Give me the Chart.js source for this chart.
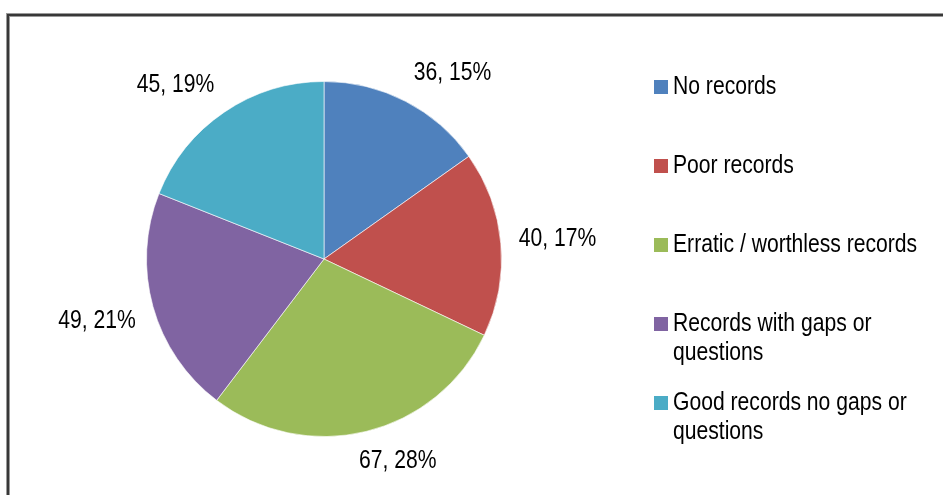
<!DOCTYPE html>
<html><head><meta charset="utf-8">
<script src="https://cdn.jsdelivr.net/npm/chart.js@4"></script>
<style>
html,body{margin:0;padding:0;background:#fff;overflow:hidden}
#wrap{position:relative;width:943px;height:495px}
canvas{display:block}
</style>
</head><body>
<div id="wrap"><canvas id="c" width="943" height="495" style="width:943px;height:495px"></canvas></div>
<script>
const categories = ["No records", "Poor records", "Erratic / worthless records", "Records with gaps or questions", "Good records no gaps or questions"];
const recordCounts = [36, 40, 67, 49, 45];
const sliceColors = ["#4F81BD", "#C0504D", "#9BBB59", "#8064A2", "#4BACC6"];

const FONT_FAMILY = '"Liberation Sans", Arial, sans-serif';
const FONT_SIZE = 25;
const CONDENSE = 0.845; // narrow-face look

function condensedWidth(ctx, txt) { return ctx.measureText(txt).width * CONDENSE; }
function drawCondensed(ctx, txt, x, y, align) {
  const w = condensedWidth(ctx, txt);
  let left = x;
  if (align === 'center') left = x - w / 2;
  ctx.save();
  ctx.translate(left, y);
  ctx.scale(CONDENSE, 1);
  ctx.textAlign = 'left';
  ctx.fillText(txt, 0, 0);
  ctx.restore();
}

const framePlugin = {
  id: 'frame',
  beforeDraw(chart) {
    const ctx = chart.ctx, W = chart.width, H = chart.height;
    ctx.save();
    ctx.fillStyle = '#ffffff';
    ctx.fillRect(0, 0, W, H);
    ctx.fillStyle = '#9a9a9a';
    ctx.fillRect(6, 13, W - 6, 1);
    ctx.fillRect(6, 13, 1, H - 13);
    ctx.fillRect(9, 16, W - 9, 1);
    ctx.fillRect(9, 16, 1, H - 16);
    ctx.fillStyle = '#383838';
    ctx.fillRect(7, 14, W - 7, 2);
    ctx.fillRect(7, 14, 2, H - 14);
    ctx.restore();
  }
};

const labelPlugin = {
  id: 'sliceLabels',
  afterDatasetsDraw(chart) {
    const ctx = chart.ctx;
    const meta = chart.getDatasetMeta(0);
    const data = chart.data.datasets[0].data;
    const total = data.reduce((a, b) => a + b, 0);
    ctx.save();
    ctx.font = FONT_SIZE + 'px ' + FONT_FAMILY;
    ctx.fillStyle = '#000';
    ctx.textBaseline = 'middle';
    meta.data.forEach((arc, i) => {
      const p = arc.getProps(['x', 'y', 'startAngle', 'endAngle', 'outerRadius'], true);
      const mid = (p.startAngle + p.endAngle) / 2;
      const txt = data[i] + ', ' + Math.round(data[i] / total * 100) + '%';
      const w = condensedWidth(ctx, txt);
      const h = FONT_SIZE;
      const c = Math.cos(mid), s = Math.sin(mid);
      const r = p.outerRadius + 18;
      const px = p.x + r * c, py = p.y + r * s;
      const clamp = v => Math.max(-1, Math.min(1, v));
      const cx = px + (w / 2) * clamp(3 * c);
      const cy = py + (h / 2) * clamp(3 * s);
      drawCondensed(ctx, txt, cx, cy, 'center');
    });
    ctx.restore();
  }
};

const legendPlugin = {
  id: 'sideLegend',
  afterDraw(chart) {
    const ctx = chart.ctx;
    const labels = chart.data.labels;
    const colors = chart.data.datasets[0].backgroundColor;
    const boxX = 654, boxSize = 14, textX = 673;
    const firstY = 87, step = 79, lineH = 29;
    const maxW = chart.width - textX - 12;
    ctx.save();
    ctx.font = FONT_SIZE + 'px ' + FONT_FAMILY;
    ctx.textBaseline = 'middle';
    labels.forEach((lab, i) => {
      const y = firstY + i * step;
      ctx.fillStyle = colors[i];
      ctx.fillRect(boxX, y - boxSize / 2, boxSize, boxSize);
      const words = lab.split(' ');
      const lines = [];
      let cur = '';
      words.forEach(wd => {
        const test = cur ? cur + ' ' + wd : wd;
        if (condensedWidth(ctx, test) > maxW && cur) { lines.push(cur); cur = wd; }
        else cur = test;
      });
      if (cur) lines.push(cur);
      ctx.fillStyle = '#000';
      lines.forEach((ln, j) => drawCondensed(ctx, ln, textX, y + j * lineH, 'left'));
    });
    ctx.restore();
  }
};

new Chart(document.getElementById('c'), {
  type: 'pie',
  data: {
    labels: categories,
    datasets: [{
      data: recordCounts,
      backgroundColor: sliceColors,
      borderColor: 'rgba(255,255,255,0.6)',
      borderWidth: 1
    }]
  },
  options: {
    responsive: false,
    animation: false,
    devicePixelRatio: 1,
    layout: { padding: { left: 146, right: 441, top: 81, bottom: 58 } },
    plugins: { legend: { display: false }, tooltip: { enabled: false } }
  },
  plugins: [framePlugin, labelPlugin, legendPlugin]
});
</script>
</body></html>
